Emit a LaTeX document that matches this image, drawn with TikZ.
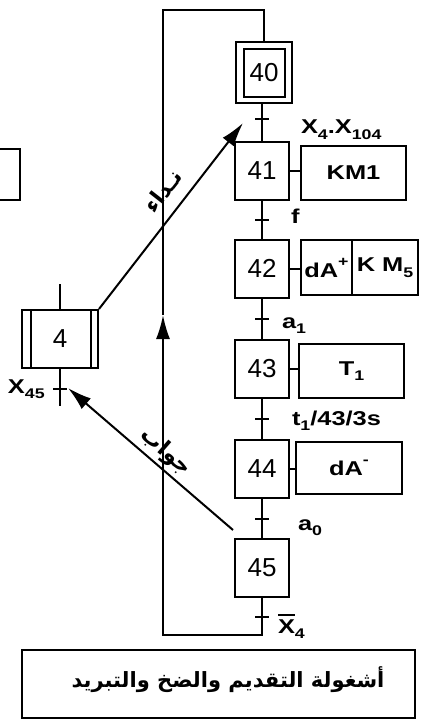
\documentclass[tikz,border=0pt]{standalone}
\usepackage{fontspec}
\setmainfont{Liberation Sans}
\newfontfamily\arabicfont[Script=Arabic]{DejaVu Sans}
\TeXXeTstate=1
\usetikzlibrary{arrows.meta,calc,fit}
\newcommand\wtxt[1]{\scalebox{1.27}[1]{#1}}
\newcommand\gsub[1]{\raisebox{-0.28em}{\scalebox{0.7}{#1}}}
\newcommand\gsup[1]{\raisebox{0.55em}{\scalebox{0.7}{#1}}}
\newcommand\xbar{\makebox[0pt][l]{\raisebox{0.86em}{\rule{0.66em}{0.08em}}}X}
\begin{document}
\begin{tikzpicture}[x=1pt,y=-1pt, line width=2pt,
  stepbox/.style={draw, minimum width=54pt, minimum height=58pt, inner sep=0pt, font=\fontsize{26}{28}\selectfont},
  actbox/.style={draw, minimum height=54pt, inner sep=0pt, font=\fontsize{20}{24}\selectfont\bfseries},
  lbl/.style={font=\fontsize{20}{22}\selectfont\bfseries, inner sep=0pt, anchor=base west},
  arr/.style={-{Latex[length=24pt,width=14pt]}},
  artext/.style={font=\arabicfont\bfseries\fontsize{22}{24}\selectfont, inner sep=0pt},
]
\clip (0,0) rectangle (430,719);
\fill[white] (0,0) rectangle (430,719);

% steps
\node[stepbox, minimum width=41pt, minimum height=48pt] (s40) at (264,73) {40};
\node[draw, fit=(s40), inner xsep=6.5pt, inner ysep=5.5pt] (s40o) {};
\node[stepbox] (s41) at (262,171) {41};
\node[stepbox] (s42) at (262,268.5) {42};
\node[stepbox] (s43) at (262,369) {43};
\node[stepbox] (s44) at (262,469) {44};
\node[stepbox] (s45) at (262,568) {45};

% actions
\node[actbox, minimum width=105pt] (a41) at (353.5,173) {\wtxt{KM1}};
\node[actbox, minimum width=51pt, minimum height=55pt] (a42a) at (326.5,267.5) {\wtxt{dA\gsup{+}}};
\node[actbox, minimum width=66pt, minimum height=55pt] (a42b) at (385,267.5) {\wtxt{K M\gsub{5}}};
\node[actbox, minimum width=105pt] (a43) at (351.5,371) {\wtxt{T\gsub{1}}};
\node[actbox, minimum width=106pt, minimum height=52pt] (a44) at (349,468) {\wtxt{dA\gsup{-}}};

\draw (s41.east) -- (a41.west |- s41.east);
\draw (s42.east) -- (a42a.west |- s42.east);
\draw (s43.east) -- (a43.west |- s43.east);
\draw (s44.east) -- (a44.west |- s44.east);

% links
\draw (s40o.south -| s41.north) -- (s41.north);
\draw (s41) -- (s42);
\draw (s42) -- (s43);
\draw (s43) -- (s44);
\draw (s44) -- (s45);

% transitions
\coordinate (t1) at ($(s40.south -| s41.north)!0.5!(s41.north)$);
\coordinate (t2) at ($(s41.south)!0.5!(s42.north)$);
\coordinate (t3) at ($(s42.south)!0.5!(s43.north)$);
\coordinate (t4) at ($(s43.south)!0.5!(s44.north)$);
\coordinate (t5) at ($(s44.south)!0.5!(s45.north)$);
\coordinate (lb) at (262,635);
\coordinate (t6) at ($(s45.south)!0.5!(lb)$);
\foreach \t in {t1,t2,t3,t4,t5,t6}{\draw ([xshift=-7pt]\t) -- ([xshift=7pt]\t);}

\node[lbl] (l1) at (300,134) {\wtxt{X\gsub{4}.X\gsub{104}}};
\node[lbl] (l2) at (290,223) {\wtxt{f}};
\node[lbl] (l3) at (281,328) {\wtxt{a\gsub{1}}};
\node[lbl] (l4) at (291,425) {\wtxt{t\gsub{1}/43/3s}};
\node[lbl] (l5) at (297,530) {\wtxt{a\gsub{0}}};
\node[lbl] (l6) at (277,633) {\wtxt{\xbar\gsub{4}}};

% loop
\coordinate (ll) at (163,635);
\coordinate (lm) at (163,315);
\coordinate (lt) at (163,10);
\draw[arr] (s45.south) -- (lb) -- (ll) -- (lm);
\draw (lm) -- (lt) -- (s40o.north |- lt) -- (s40o.north);

% macro step 4
\node[stepbox, minimum width=76pt] (s4) at (60,339) {4};
\draw ([xshift=10pt]s4.north west) -- ([xshift=10pt]s4.south west);
\draw ([xshift=-8pt]s4.north east) -- ([xshift=-8pt]s4.south east);
\draw (s4.north) -- ++(0,-25);
\draw (s4.south) -- ++(0,37);
\coordinate (t7) at ($(s4.south)+(0,20)$);
\draw ([xshift=-7pt]t7) -- ([xshift=7pt]t7);
\node[lbl] (l7) at (7,393) {\wtxt{X\gsub{45}}};

% partial box at left edge
\draw (-10,149) rectangle (20,200);

% arrows
\coordinate (c1) at (243,123);
\draw[arr] (s4.north east) -- (c1);
\coordinate (c2) at (233,530);
\coordinate (c3) at (68,388);
\draw[arr] (c2) -- (c3);
\node[artext, rotate=52] (ar1) at (163,191) {\beginR نـداء\endR};
\node[artext, rotate=-41] (ar2) at (166,452) {\beginR جواب\endR};

% title
\node[draw, minimum width=393pt, minimum height=68pt] (title) at (218.5,684) {};
\node[font=\arabicfont\bfseries\fontsize{21}{24}\selectfont, inner sep=0pt] (titletext) at (228,680) {\beginR أشغولة التقديم والضخ والتبريد\endR};
\end{tikzpicture}
\end{document}
